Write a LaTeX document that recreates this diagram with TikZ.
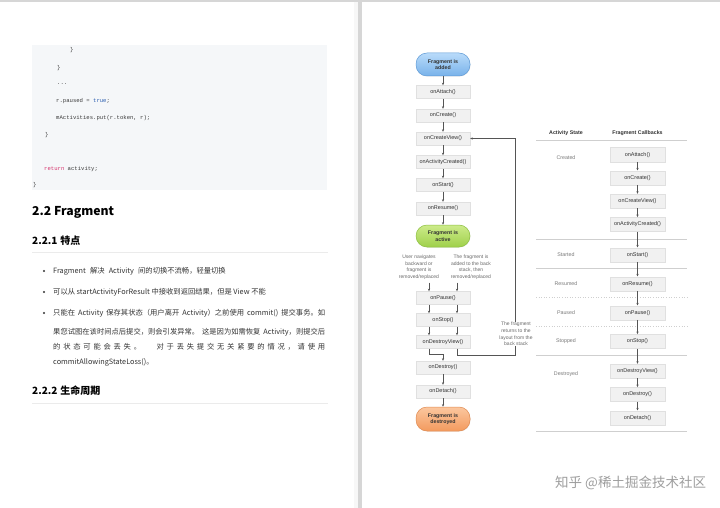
\documentclass[tikz,border=0pt]{standalone}
\usepackage{fontspec}
\setmainfont{Liberation Sans}
\newfontfamily\cjk{Noto Sans CJK SC}
\newfontfamily\codefont{Liberation Mono}
\usetikzlibrary{shadows,arrows.meta}
\definecolor{codebg}{HTML}{F5F7F9}
\definecolor{codetxt}{HTML}{3A3A3A}
\definecolor{kwred}{HTML}{D6336C}
\definecolor{kwblue}{HTML}{2A5DB0}
\definecolor{boxfill}{HTML}{F1F1F1}
\definecolor{boxline}{HTML}{E0E0E0}
\definecolor{boxtext}{HTML}{333333}
\definecolor{arrowc}{HTML}{555555}
\definecolor{rulec}{HTML}{CFCFCF}
\definecolor{statec}{HTML}{7A7A7A}
\definecolor{labelc}{HTML}{6A6A6A}
\definecolor{chrome}{HTML}{D6D6D6}
\definecolor{blueT}{HTML}{B9DBFA}
\definecolor{blueB}{HTML}{78B2EA}
\definecolor{blueL}{HTML}{5E9AD6}
\definecolor{greenT}{HTML}{CDEB8B}
\definecolor{greenB}{HTML}{9FD04A}
\definecolor{greenL}{HTML}{8CBF3F}
\definecolor{orangeT}{HTML}{FBC79F}
\definecolor{orangeB}{HTML}{F39A5E}
\definecolor{orangeL}{HTML}{E08A50}
\definecolor{bodytxt}{HTML}{333333}
\begin{document}
\begin{tikzpicture}[x=1pt,y=-1pt,
  cb/.style={draw=boxline, fill=boxfill, line width=0.4pt, minimum width=54pt, minimum height=13pt, inner sep=0pt,
    font=\fontsize{5.5}{6}\selectfont, text=boxtext,
    drop shadow={shadow xshift=0.5pt, shadow yshift=-0.6pt, opacity=0.15}},
  cbr/.style={cb, minimum width=55pt, minimum height=14pt},
  fstate/.style={rounded corners=11pt, minimum width=54pt, minimum height=23pt, inner sep=0pt, align=center,
    font=\bfseries\fontsize{5.3}{6.3}\selectfont, text=boxtext, line width=0.5pt,
    drop shadow={shadow xshift=0.5pt, shadow yshift=-0.6pt, opacity=0.15}},
  arr/.style={draw=arrowc, line width=0.5pt, -{Stealth[length=2.6pt,width=2.2pt]}},
  lbl/.style={font=\fontsize{5}{6.7}\selectfont, text=labelc, align=center, inner sep=0.5pt},
  stname/.style={font=\fontsize{5.3}{6}\selectfont, text=statec},
  hdr/.style={font=\bfseries\fontsize{5.3}{6}\selectfont, text=boxtext},
  code/.style={anchor=west, inner sep=0pt, font=\codefont\fontsize{5.6}{6}\selectfont, text=codetxt},
  body/.style={anchor=west, inner sep=0pt, font=\cjk\fontsize{7.3}{8}\selectfont, text=bodytxt},
  bullet/.style={circle, fill=bodytxt, inner sep=0pt, minimum size=2.2pt},
  fainthr/.style={draw=black!8, line width=0.6pt},
  trule/.style={draw=rulec, line width=0.5pt},
  drule/.style={draw=rulec, line width=0.6pt, dotted}
]
\useasboundingbox (0,0) rectangle (720,508);
\fill[white] (0,0) rectangle (720,508);
% page chrome
\fill[chrome] (0,0) rectangle (720,2.5);
\fill[chrome] (357.5,0) rectangle (361.5,508);
\fill[black!3] (354,2.5) rectangle (357.5,508);

% ---------- left page ----------
\fill[codebg] (32,45) rectangle (327,190);
\node[code] (c1) at (70,50) {\}};
\node[code] (c2) at (57,68) {\}};
\node[code] (c3) at (57,84) {...};
\node[code] (c4) at (56,101) {r.paused = \textcolor{kwblue}{true};};
\node[code] (c5) at (56,118) {mActivities.put(r.token, r);};
\node[code] (c6) at (45,135) {\}};
\node[code] (c7) at (44,169) {\textcolor{kwred}{return} activity;};
\node[code] (c8) at (33,185) {\}};

\node[anchor=west, inner sep=0pt, font=\cjk\bfseries\fontsize{12.2}{15}\selectfont, text=black] (h22) at (32,212) {2.2 Fragment};
\node[anchor=west, inner sep=0pt, font=\cjk\bfseries\fontsize{10}{12}\selectfont, text=black] (h221) at (32,241) {2.2.1\hspace{3pt}特点};
\draw[fainthr] (32,252) -- (328,252);

\node[bullet] (b1) at (44,271) {};
\node[body] (t1) at (53,271) {Fragment\hspace{2.5pt} 解决\hspace{2.5pt} Activity\hspace{2.5pt} 间的切换不流畅，轻量切换};
\node[bullet] (b2) at (44,292) {};
\node[body] (t2) at (53,292) {可以从 startActivityForResult 中接收到返回结果，但是 View 不能};
\node[bullet] (b3) at (44,313) {};
\node[body] (t3) at (53,313) {\makebox[272pt][s]{只能在 Activity 保存其状态（用户离开 Activity）之前使用 commit() 提交事务。如}};
\node[body] (t4) at (53,332) {\makebox[272pt][s]{果您试图在该时间点后提交，则会引发异常。 这是因为如需恢复 Activity，则提交后}};
\node[body] (t5) at (53,347) {\makebox[272pt][s]{的 状 态 可 能 会 丢 失 。 \hspace{10pt} 对 于 丢 失 提 交 无 关 紧 要 的 情 况 ， 请 使 用}};
\node[body] (t6) at (53,362) {commitAllowingStateLoss()。};

\node[anchor=west, inner sep=0pt, font=\cjk\bfseries\fontsize{10}{12}\selectfont, text=black] (h222) at (32,391) {2.2.2\hspace{3pt}生命周期};
\draw[fainthr] (32,403) -- (328,403);

% ---------- right page: flowchart ----------
\node[fstate, draw=blueL, top color=blueT, bottom color=blueB] (added) at (443,64.5) {Fragment is\\added};
\node[cb] (attach) at (443,92) {onAttach()};
\node[cb] (create) at (443,115.5) {onCreate()};
\node[cb] (cview) at (443,138.5) {onCreateView()};
\node[cb] (actc) at (443,162) {onActivityCreated()};
\node[cb] (start) at (443,185) {onStart()};
\node[cb] (resume) at (443,208.5) {onResume()};
\node[fstate, draw=greenL, top color=greenT, bottom color=greenB, minimum height=22pt] (active) at (443,236) {Fragment is\\active};
\node[lbl] (ulab) at (419,267.3) {User navigates\\backward or\\fragment is\\removed/replaced};
\node[lbl] (blab) at (471,267.3) {The fragment is\\added to the back\\stack, then\\removed/replaced};
\node[cb] (pause) at (443,298) {onPause()};
\node[cb] (stop) at (443,320) {onStop()};
\node[cb] (dview) at (443,342) {onDestroyView()};
\node[cb] (destroy) at (443,367.5) {onDestroy()};
\node[cb] (detach) at (443,391.5) {onDetach()};
\node[fstate, draw=orangeL, top color=orangeT, bottom color=orangeB, minimum height=24pt] (destroyed) at (443,419) {Fragment is\\destroyed};

\draw[arr] (added) -- (attach);
\draw[arr] (attach) -- (create);
\draw[arr] (create) -- (cview);
\draw[arr] (cview) -- (actc);
\draw[arr] (actc) -- (start);
\draw[arr] (start) -- (resume);
\draw[arr] (resume) -- (active);
\coordinate (ua) at (429,282.5);
\coordinate (ba) at (457,282.5);
\draw[arr] (ua) -- (ua |- pause.north);
\draw[arr] (ba) -- (ba |- pause.north);
\draw[arr] ([xshift=-14pt]pause.south) -- ([xshift=-14pt]stop.north);
\draw[arr] ([xshift=14pt]pause.south) -- ([xshift=14pt]stop.north);
\draw[arr] ([xshift=-14pt]stop.south) -- ([xshift=-14pt]dview.north);
\draw[arr] ([xshift=14pt]stop.south) -- ([xshift=14pt]dview.north);
\draw[arr] ([xshift=-14pt]dview.south) -- ++(0,6) -| (destroy.north);
\coordinate (ret) at (515,355);
\draw[arr] ([xshift=14pt]dview.south) |- (ret) |- (cview.east);
\node[lbl, fill=white] (rlab) at (516,334) {The fragment\\returns to the\\layout from the\\back stack};
\draw[arr] (destroy) -- (detach);
\draw[arr] (detach) -- (destroyed);

% ---------- right page: table ----------
\node[hdr] (hA) at (566,132.7) {Activity State};
\node[hdr] (hF) at (637.5,132.7) {Fragment Callbacks};
\draw[trule] (536,140.7) -- (687,140.7);
\draw[trule] (536,239.3) -- (687,239.3);
\draw[trule] (536,268.3) -- (687,268.3);
\draw[drule] (536,297.3) -- (687,297.3);
\draw[drule] (536,326) -- (687,326);
\draw[trule] (536,355.3) -- (687,355.3);
\draw[trule] (536,431.7) -- (687,431.7);

\node[stname] (sC) at (566,157.7) {Created};
\node[stname] (sS) at (566,255) {Started};
\node[stname] (sR) at (566,283.5) {Resumed};
\node[stname] (sP) at (566,312.7) {Paused};
\node[stname] (sT) at (566,341.3) {Stopped};
\node[stname] (sD) at (566,374) {Destroyed};

\node[cbr] (rattach) at (637.5,154.7) {onAttach()};
\node[cbr] (rcreate) at (637.5,177.7) {onCreate()};
\node[cbr] (rcview) at (637.5,201) {onCreateView()};
\node[cbr] (ractc) at (637.5,224.3) {onActivityCreated()};
\node[cbr] (rstart) at (637.5,254.7) {onStart()};
\node[cbr] (rresume) at (637.5,283.7) {onResume()};
\node[cbr] (rpause) at (637.5,312.7) {onPause()};
\node[cbr] (rstop) at (637.5,341.3) {onStop()};
\node[cbr] (rdview) at (637.5,371) {onDestroyView()};
\node[cbr] (rdestroy) at (637.5,394.3) {onDestroy()};
\node[cbr] (rdetach) at (637.5,417.7) {onDetach()};
\draw[arr] (rattach) -- (rcreate);
\draw[arr] (rcreate) -- (rcview);
\draw[arr] (rcview) -- (ractc);
\draw[arr] (ractc) -- (rstart);
\draw[arr] (rstart) -- (rresume);
\draw[arr] (rresume) -- (rpause);
\draw[arr] (rpause) -- (rstop);
\draw[arr] (rstop) -- (rdview);
\draw[arr] (rdview) -- (rdestroy);
\draw[arr] (rdestroy) -- (rdetach);

% watermark
\node[anchor=west, inner sep=0pt, font=\cjk\fontsize{13.5}{15}\selectfont, text=black!38] (wm) at (555,483) {知乎 @稀土掘金技术社区};
\end{tikzpicture}
\end{document}
